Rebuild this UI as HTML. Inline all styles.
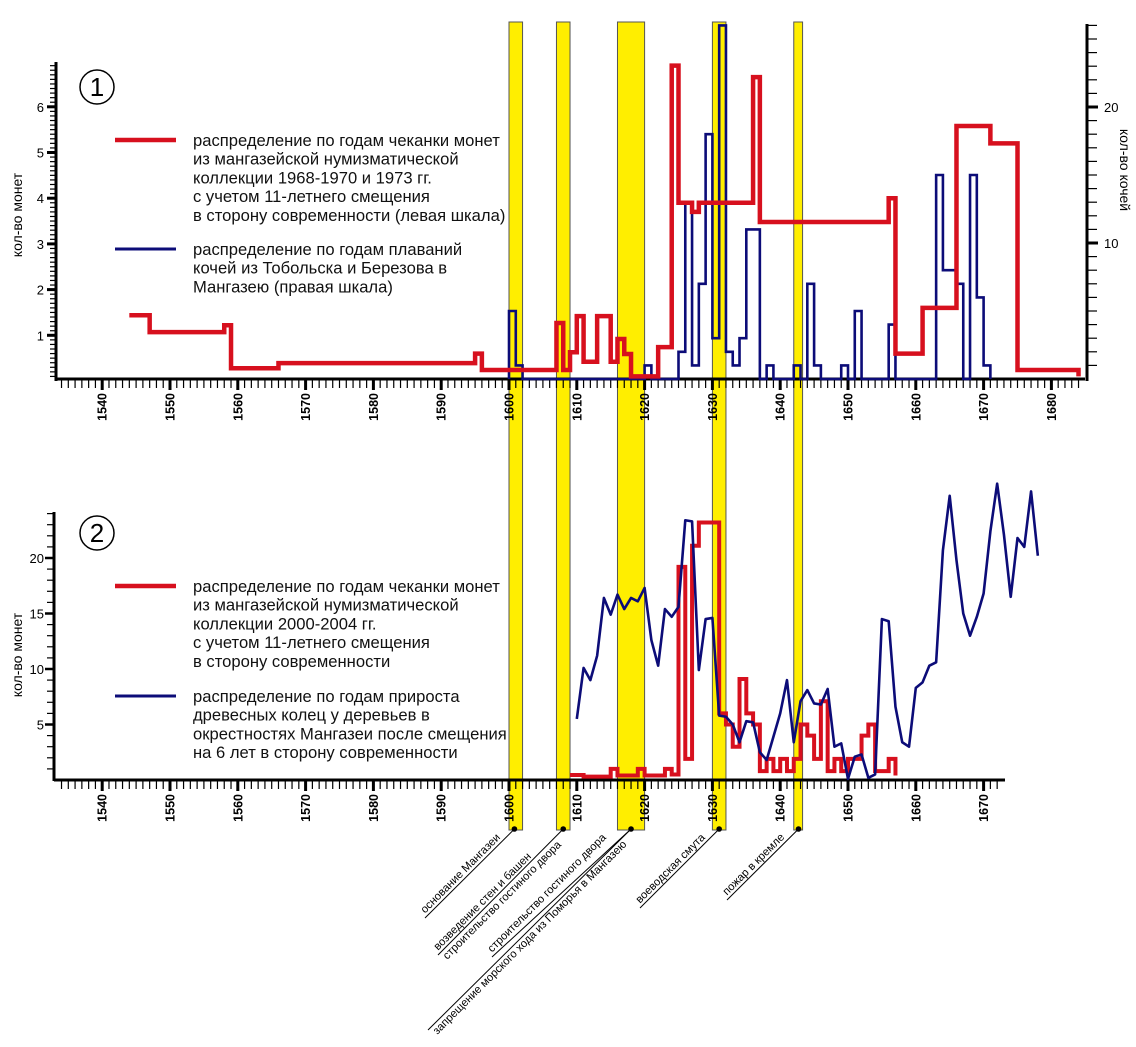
<!DOCTYPE html>
<html><head><meta charset="utf-8"><style>
body{margin:0;background:#fff}
svg{display:block;font-family:"Liberation Sans",Arial,sans-serif}
</style></head><body>
<svg id="c" width="1136" height="1047" viewBox="0 0 1136 1047" xmlns="http://www.w3.org/2000/svg"></svg>
<script>
// ---- data ----
const bandStarts=[1600,1607,1616,1630,1642];
const bandEnds=[1602,1609,1620,1632,1643.3];
const eventYears=[1600.8,1608,1618,1631,1642.7];
const topRedEdges=[1544,1547,1558,1559,1566,1595,1596,1607,1608,1609,1610,1611,1613,1615,1616,1617,1618,1622,1624,1625,1627,1628,1636,1637,1656,1657,1661,1666,1671,1675,1684];
const topRedVals=[1.44,1.07,1.22,0.28,0.39,0.6,0.24,1.27,0.24,0.63,1.42,0.42,1.42,0.42,0.92,0.59,0.1,0.74,6.9,3.9,3.7,3.9,6.65,3.48,4.0,0.6,1.6,5.58,5.2,0.24];
const topBlueStart=1600;
const topBlueVals=[5,1,0,0,0,0,0,0,0,0,0,0,0,0,0,0,0,0,0,0,1,0,0,0,0,2,13,1,7,18,3,26,2,1,3,11,11,0,1,0,0,0,1,0,7,1,0,0,0,1,0,5,0,0,0,0,4,0,0,0,0,0,0,15,8,8,7,0,15,6,1];
const botRedStart=1609;
const botRedVals=[0.45,0.45,0.3,0.3,0.3,0.3,1.0,0.4,0.4,0.4,1.0,0.4,0.4,0.4,1.0,0.5,19.2,1.9,21.1,23.2,23.2,23.2,6.0,5.0,3.0,9.1,6.0,5.0,0.8,1.9,0.8,1.9,0.8,1.9,5.0,4.0,1.9,7.1,0.8,1.9,0.8,1.9,1.9,4.0,5.0,0.8,0.8,1.9];
const botBlueStart=1610;
const botBlueVals=[5.5,10.1,9.0,11.2,16.4,14.9,16.7,15.4,16.4,16.1,17.3,12.6,10.3,15.4,14.7,15.6,23.4,23.3,9.9,14.5,14.6,5.8,5.7,5.0,3.4,5.3,5.2,2.5,1.8,3.9,6.0,9.0,3.4,7.1,8.1,6.9,6.8,8.2,3.0,3.3,0.1,2.1,2.3,0.2,0.5,14.5,14.3,6.6,3.4,3.0,8.3,8.8,10.3,10.6,20.7,25.6,19.8,15.0,13.0,14.7,16.8,22.4,26.7,22.1,16.5,21.8,21.0,26.0,20.2];
const yearLabelsTop=[1540,1550,1560,1570,1580,1590,1600,1610,1620,1630,1640,1650,1660,1670,1680];
const yearLabelsBot=[1540,1550,1560,1570,1580,1590,1600,1610,1620,1630,1640,1650,1660,1670];
const leftTicksTop=[1,2,3,4,5,6];
const rightTicksTop=[10,20];
const leftTicksBot=[5,10,15,20];

// ---- scales ----
const X=yr=>509+(yr-1600)*6.78;
const YL1=v=>381-v*45.7;
const YR1=v=>379-v*13.6;
const YL2=v=>780-v*11.1;
const RED="#d7101e", BLUE="#0c0c78";
const svg=document.getElementById('c');
const NS="http://www.w3.org/2000/svg";
function mk(tag,attrs,parent){const e=document.createElementNS(NS,tag);for(const k in attrs)e.setAttribute(k,attrs[k]);(parent||svg).appendChild(e);return e;}
function txt(s,attrs,parent){const e=mk('text',attrs,parent);e.textContent=s;return e;}

// bands
for(let i=0;i<bandStarts.length;i++){
  const r=mk('rect',{x:X(bandStarts[i]),y:22,width:X(bandEnds[i])-X(bandStarts[i]),height:808,fill:'#ffee00',stroke:'#555',"stroke-width":1});
  
  
}

function xAxis(y,x0,x1,yrs,labels,name){
  const g=mk('g',{});
  
  
  mk('line',{x1:x0,y1:y,x2:x1,y2:y,stroke:'#000','stroke-width':3},g);
  for(let yr=yrs[0];yr<=yrs[1];yr++){
    const maj=yr%10===0;
    mk('line',{x1:X(yr),y1:y,x2:X(yr),y2:y+(maj?11:9),stroke:'#000','stroke-width':maj?3:1.2},g);
  }
  labels.forEach(l=>{
    const t=txt(String(l),{x:0,y:0,'font-size':12.5,'font-weight':'bold','text-anchor':'end',transform:`translate(${X(l)+4.5},${y+14}) rotate(-90)`},g);
    
    
  });
}
xAxis(379,56,1085,[1534,1684],yearLabelsTop,'x-axis-top');
xAxis(780,54,1005,[1534,1672],yearLabelsBot,'x-axis-bottom');

{const g=mk('g',{});
 
 
 mk('line',{x1:56,y1:62,x2:56,y2:381,stroke:'#000','stroke-width':3},g);
 for(let k=1;k<=69;k++){const v=k/10;const maj=k%10===0;
   mk('line',{x1:56,y1:YL1(v),x2:56-(maj?9:6),y2:YL1(v),stroke:'#000','stroke-width':maj?3:1.2},g);}
 leftTicksTop.forEach(v=>{const t=txt(String(v),{x:44,y:YL1(v)+5,'font-size':13,'text-anchor':'end'},g);
   
   });
 const tt=txt('кол-во монет',{x:0,y:0,'font-size':14,'text-anchor':'middle',transform:'translate(22,215) rotate(-90)'},g);
 
 
}
{const g=mk('g',{});
 
 
 mk('line',{x1:1087,y1:24,x2:1087,y2:381,stroke:'#000','stroke-width':3},g);
 for(let v=1;v<=26;v++){const maj=v%10===0;
   mk('line',{x1:1087,y1:YR1(v),x2:1087+(maj?11:10),y2:YR1(v),stroke:'#000','stroke-width':maj?3:1.2},g);}
 rightTicksTop.forEach(v=>{const t=txt(String(v),{x:1104,y:YR1(v)+5,'font-size':13},g);
   
   });
 const tt=txt('кол-во кочей',{x:0,y:0,'font-size':14,'text-anchor':'middle',transform:'translate(1120,170) rotate(90)'},g);
 
 
}
{const g=mk('g',{});
 
 
 mk('line',{x1:54,y1:512,x2:54,y2:781,stroke:'#000','stroke-width':3},g);
 for(let v=1;v<=24;v++){const maj=v%5===0;
   mk('line',{x1:54,y1:YL2(v),x2:54-(maj?9:7),y2:YL2(v),stroke:'#000','stroke-width':maj?2.5:1.2},g);}
 leftTicksBot.forEach(v=>{const t=txt(String(v),{x:44,y:YL2(v)+5,'font-size':13,'text-anchor':'end'},g);
   
   });
 const tt=txt('кол-во монет',{x:0,y:0,'font-size':14,'text-anchor':'middle',transform:'translate(22,655) rotate(-90)'},g);
 
 
}

function stepPath(edges,vals,Y){let d=`M${X(edges[0])},${Y(vals[0])}`;
  for(let i=1;i<edges.length;i++){d+=` H${X(edges[i])}`; if(i<vals.length)d+=` V${Y(vals[i])}`;}
  return d;}
{let d=`M${X(topBlueStart)},${YR1(0)}`;
 topBlueVals.forEach((v,i)=>{d+=` V${YR1(v)} H${X(topBlueStart+i+1)}`;});
 d+=` V${YR1(0)}`;
 const p=mk('path',{d,fill:'none',stroke:BLUE,'stroke-width':2.6});
 
 }
{const p=mk('path',{d:stepPath(topRedEdges,topRedVals,YL1)+` V${YL1(0.1)}`,fill:'none',stroke:RED,'stroke-width':4.5});
 
 }
{const edges=botRedVals.map((v,i)=>botRedStart+i).concat([botRedStart+botRedVals.length]);
 const p=mk('path',{d:stepPath(edges,botRedVals,YL2)+` V${YL2(0.4)}`,fill:'none',stroke:RED,'stroke-width':4});
 
 }
{const pts=botBlueVals.map((v,i)=>`${X(botBlueStart+i)},${YL2(v)}`).join(' ');
 const p=mk('polyline',{points:pts,fill:'none',stroke:BLUE,'stroke-width':2.6,'stroke-linejoin':'round'});
 
 }

function legend(y0,color,lines,name){
  const g=mk('g',{});
  
  
  mk('line',{x1:115,y1:y0,x2:176,y2:y0,stroke:color,'stroke-width':color===RED?4.5:3},g);
  lines.forEach((s,i)=>txt(s,{x:193,y:y0+6+i*18.7,'font-size':16.6,fill:'#111'},g));
}
legend(140,RED,['распределение по годам чеканки монет','из мангазейской нумизматической','коллекции 1968-1970 и 1973 гг.','с учетом 11-летнего смещения','в сторону современности (левая шкала)'],'legend-entry-coins-1968');
legend(249,BLUE,['распределение по годам плаваний','кочей из Тобольска и Березова в','Мангазею (правая шкала)'],'legend-entry-koch');
legend(586,RED,['распределение по годам чеканки монет','из мангазейской нумизматической','коллекции 2000-2004 гг.','с учетом 11-летнего смещения','в сторону современности'],'legend-entry-coins-2000');
legend(696,BLUE,['распределение по годам прироста','древесных колец у деревьев в','окрестностях Мангазеи после смещения','на 6 лет в сторону современности'],'legend-entry-tree-rings');
[[97,87,'1','panel-number-1'],[97,533,'2','panel-number-2']].forEach(([cx,cy,s,n])=>{
  const g=mk('g',{});
  
  
  mk('circle',{cx,cy,r:17,fill:'none',stroke:'#000','stroke-width':1.5},g);
  txt(s,{x:cx,y:cy+9,'font-size':26,'text-anchor':'middle'},g);
});

const evLines=[
 {i:0,x2:425,y2:918,above:'основание Мангазеи',below:null},
 {i:1,x2:438,y2:955,above:'возведение стен и башен',below:'строительство гостиного двора'},
 {i:2,x2:492,y2:957,above:'строительство гостиного двора',below:null},
 {i:2,x2:428,y2:1030,above:null,below:'запрещение морского хода из Поморья в Мангазею'},
 {i:3,x2:640,y2:908,above:'воеводская смута',below:null},
 {i:4,x2:727,y2:900,above:'пожар в кремле',below:null}
];
eventYears.forEach((yr,i)=>{
  const c=mk('circle',{cx:X(yr),cy:829,r:2.8,fill:'#000'});
  
  
});
evLines.forEach(e=>{
  const x1=X(eventYears[e.i]),y1=829;
  const g=mk('g',{});
  
  
  mk('line',{x1,y1,x2:e.x2,y2:e.y2,stroke:'#000','stroke-width':1},g);
  const tr=`translate(${e.x2},${e.y2}) rotate(-45)`;
  if(e.above)txt(e.above,{x:3,y:-3,'font-size':11.2,transform:tr},g);
  if(e.below)txt(e.below,{x:3,y:10,'font-size':11.2,transform:tr},g);
});
</script>
</body></html>
